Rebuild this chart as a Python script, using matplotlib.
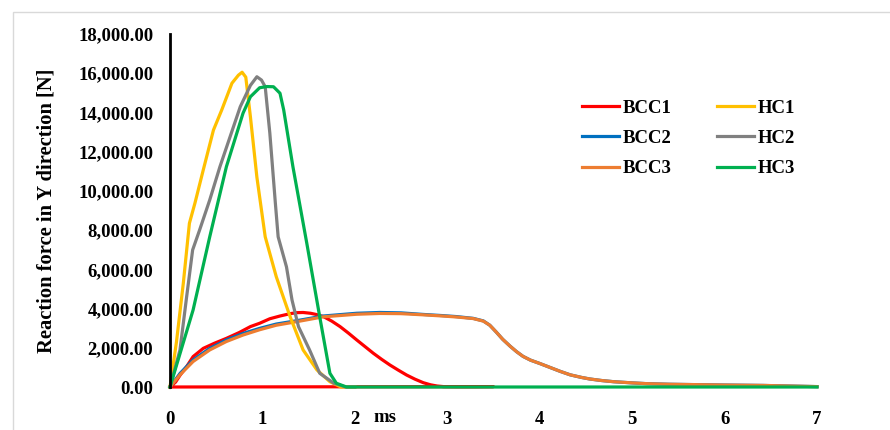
import numpy as np
import matplotlib
matplotlib.use("Agg")
import matplotlib.pyplot as plt
from matplotlib.patches import Rectangle

# time [ms] and reaction force [N]
t_bcc1 = [0, 0.06, 0.11, 0.18, 0.25, 0.36, 0.48, 0.61, 0.75, 0.87, 0.97, 1.08, 1.19, 1.30,
          1.37, 1.44, 1.52, 1.59, 1.66, 1.75, 1.84, 1.93, 2.02, 2.11, 2.20, 2.29, 2.38, 2.47,
          2.56, 2.65, 2.74, 2.82, 2.89, 2.96, 3.1, 3.3, 3.5, 0]
f_bcc1 = [0, 250, 610, 1040, 1550, 1970, 2230, 2480, 2780, 3080, 3250, 3480, 3620, 3740,
          3790, 3800, 3760, 3690, 3590, 3360, 3080, 2750, 2400, 2060, 1720, 1410, 1120, 860,
          610, 400, 220, 110, 50, 20, 15, 15, 20, 0]

t_bcc2 = [0, 0.11, 0.25, 0.43, 0.61, 0.79, 0.97, 1.15, 1.37, 1.66, 2.02, 2.27, 2.5, 2.74,
          2.95, 3.10, 3.28, 3.39, 3.46, 3.53, 3.60, 3.68, 3.75, 3.82, 3.90, 4.00, 4.11, 4.22,
          4.33, 4.45, 4.54, 4.67, 4.80, 5.0, 5.16, 5.4, 5.70, 6.0, 6.42, 6.7, 7.0]
f_bcc2 = [0, 700, 1380, 1970, 2400, 2730, 2990, 3210, 3380, 3620, 3760, 3800, 3780, 3700,
          3640, 3590, 3500, 3370, 3150, 2800, 2430, 2080, 1800, 1560, 1370, 1200, 1000, 800,
          620, 490, 410, 330, 270, 210, 170, 140, 120, 100, 80, 50, 20]

t_bcc3 = [0, 0.11, 0.25, 0.43, 0.61, 0.79, 0.97, 1.15, 1.37, 1.66, 2.02, 2.27, 2.5, 2.74,
          2.95, 3.10, 3.28, 3.39, 3.46, 3.53, 3.60, 3.68, 3.75, 3.82, 3.90, 4.00, 4.11, 4.22,
          4.33, 4.45, 4.54, 4.67, 4.80, 5.0, 5.16, 5.4, 5.70, 6.0, 6.42, 6.7, 7.0]
f_bcc3 = [0, 630, 1300, 1890, 2320, 2650, 2920, 3150, 3330, 3580, 3710, 3750, 3740, 3680,
          3620, 3570, 3490, 3360, 3150, 2800, 2430, 2080, 1800, 1560, 1370, 1200, 1000, 800,
          620, 490, 410, 330, 270, 210, 170, 140, 120, 100, 80, 50, 20]

t_hc1 = [0, 0.07, 0.144, 0.21, 0.27, 0.36, 0.47, 0.56, 0.67, 0.74, 0.78, 0.82, 0.87, 0.94,
         1.03, 1.15, 1.30, 1.44, 1.59, 1.73, 1.85, 2.0]
f_hc1 = [0, 2300, 5290, 8350, 9380, 11070, 13100, 14130, 15490, 15900, 16050, 15800, 13780,
         10700, 7660, 5620, 3580, 1890, 870, 270, 0, 0]

t_hc2 = [0, 0.108, 0.18, 0.245, 0.32, 0.43, 0.54, 0.65, 0.76, 0.87, 0.94, 0.99, 1.03, 1.08,
         1.14, 1.17, 1.26, 1.32, 1.39, 1.51, 1.62, 1.77, 1.9, 2.0]
f_hc2 = [0, 1890, 4600, 6990, 8000, 9540, 11230, 12760, 14290, 15380, 15820, 15650, 15310,
         12950, 9370, 7660, 6130, 4440, 3080, 1890, 700, 200, 0, 0]

t_hc3 = [0, 0.25, 0.43, 0.61, 0.79, 0.87, 0.97, 1.05, 1.12, 1.19, 1.23, 1.33, 1.48, 1.62,
         1.73, 1.80, 1.91, 3.0, 5.0, 7.0]
f_hc3 = [0, 3930, 7660, 11230, 13960, 14800, 15260, 15320, 15310, 14980, 14130, 11230, 7330,
         3580, 700, 190, 0, 0, 0, 0]

y_ticks = np.arange(0, 18001, 2000)
x_ticks = np.arange(0, 8)

plt.rcParams['font.family'] = ['Liberation Serif', 'DejaVu Serif']
plt.rcParams['font.weight'] = 'bold'

fig = plt.figure(figsize=(8.9, 4.3), dpi=100)
fig.patches.append(Rectangle((13 / 890, -0.1), 1.2, 1.1 - 12 / 430, transform=fig.transFigure,
                             fill=False, edgecolor='#d9d9d9', linewidth=1.0))
ax = fig.add_axes([170 / 890, 1 - 387 / 430, (817 - 170) / 890, (387 - 34) / 430])

lw = 2.3
series = [(t_bcc1, f_bcc1, '#FF0000', 'BCC1'),
          (t_bcc2, f_bcc2, '#0070C0', 'BCC2'),
          (t_bcc3, f_bcc3, '#ED7D31', 'BCC3'),
          (t_hc1, f_hc1, '#FFC000', 'HC1'),
          (t_hc2, f_hc2, '#808080', 'HC2'),
          (t_hc3, f_hc3, '#00B050', 'HC3')]
for t, f, c, name in series:
    ax.plot(t, f, color=c, lw=lw, label=name, clip_on=False, solid_joinstyle='round')

ax.set_xlim(0, 7)
ax.set_ylim(0, 18000)
ax.set_xticks(x_ticks)
ax.set_yticks(y_ticks)
ax.set_yticklabels(['{:,.2f}'.format(v) for v in y_ticks], fontsize=13.5, fontweight='bold')
ax.set_xticklabels([str(v) for v in x_ticks], fontsize=13.5, fontweight='bold')
ax.tick_params(axis='both', length=0)
ax.tick_params(axis='x', pad=17)
ax.tick_params(axis='y', pad=12)

for s in ['top', 'right', 'bottom']:
    ax.spines[s].set_visible(False)
ax.spines['left'].set_linewidth(2.0)
ax.spines['left'].set_color('black')

ax.set_ylabel('Reaction force in Y direction [N]', fontsize=14.8, fontweight='bold')
ax.yaxis.set_label_coords(-0.175, 0.5)
ax.set_xlabel('ms', fontsize=13.5, fontweight='bold')
ax.xaxis.set_label_coords(0.332, -0.062)

handles, labels = ax.get_legend_handles_labels()
leg = ax.legend(handles, labels, ncol=2, loc='upper left', bbox_to_anchor=(0.610, 0.862),
                frameon=False, prop={'family': 'Liberation Serif', 'weight': 'bold', 'size': 13.5},
                handlelength=2.0, handletextpad=0.2, columnspacing=2.4, labelspacing=0.7)

fig.savefig('out.png', dpi=100)
